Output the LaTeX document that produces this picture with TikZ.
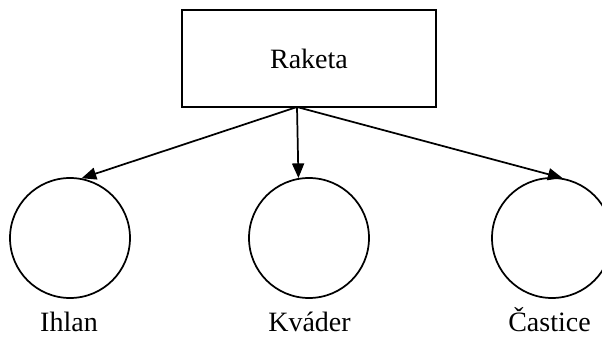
\documentclass[tikz,border=0pt]{standalone}
\usepackage{fontspec}
\setmainfont{Liberation Serif}
\usepackage{tikz}
\usetikzlibrary{arrows.meta,calc}

\begin{document}
\begin{tikzpicture}[x=0.75pt,y=-0.75pt,
		ball/.style={draw,circle,line width=1.3pt,minimum size=90pt,inner sep=0pt},
		lbl/.style={anchor=base,font=\fontsize{21}{24}\selectfont},
		arr/.style={-{Triangle[length=11pt,width=9pt]},line width=1.3pt}]
	\useasboundingbox (0,0) rectangle (602,338);
		    \node[draw,line width=1.6pt,minimum width=191pt,minimum height=72.75pt,font=\fontsize{21}{24}\selectfont] (raketa) at (309,58.5) {Raketa};
		    \node[ball] (ihlan)   at (70,238) {};
		    \node[ball] (kvader)  at (309,238) {};
		    \node[ball] (castice) at (552,238) {};
		    \node[lbl] (ihlanL)   at (69,331) {Ihlan};
		    \node[lbl] (kvaderL)  at (309.5,331) {Kváder};
		    \node[lbl] (casticeL) at (549.5,331) {Častice};
		    \coordinate (fork) at (297,107);
    \draw[arr] (fork)--(ihlan.79);
    \draw[arr] (fork)--(kvader.100);
    \draw[arr] (fork)--(castice.80);
   	\end{tikzpicture}
\end{document}
